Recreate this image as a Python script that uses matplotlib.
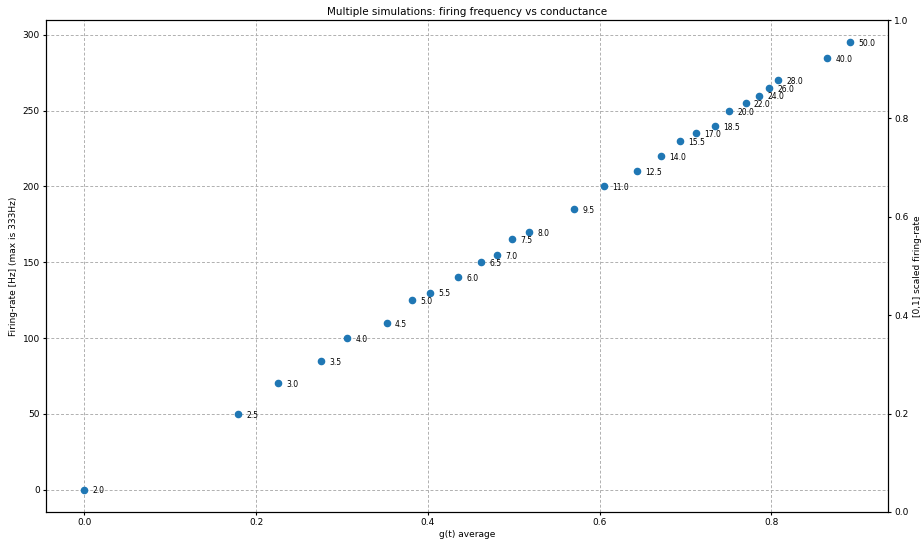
import matplotlib.pyplot as plt

# g(t) average per simulation
g_avg = [0.0, 0.179, 0.226, 0.276, 0.306, 0.352, 0.381, 0.4025, 0.4355, 0.4615,
         0.481, 0.498, 0.518, 0.570, 0.605, 0.643, 0.671, 0.693, 0.712, 0.734,
         0.751, 0.770, 0.786, 0.797, 0.808, 0.865, 0.891]
# firing rate [Hz]
rates = [0, 50, 70, 85, 100, 110, 125, 130, 140, 150,
         155, 165, 170, 185, 200, 210, 220, 230, 235, 240,
         250, 255, 260, 265, 270, 285, 295]
# input value used in each simulation
inputs = [2.0, 2.5, 3.0, 3.5, 4.0, 4.5, 5.0, 5.5, 6.0, 6.5,
          7.0, 7.5, 8.0, 9.5, 11.0, 12.5, 14.0, 15.5, 17.0, 18.5,
          20.0, 22.0, 24.0, 26.0, 28.0, 40.0, 50.0]

fig, ax = plt.subplots(figsize=(9.21, 5.44), dpi=100)
fig.subplots_adjust(left=0.05, right=0.964, top=0.963, bottom=0.059)

ax.scatter(g_avg, rates, s=20, color="#1f77b4", zorder=3)
for g, r, i in zip(g_avg, rates, inputs):
    ax.annotate(f"{i:.1f}", (g, r), xytext=(6, -1), textcoords="offset points",
                fontsize=5.5, va="center", ha="left")

ax.set_title("Multiple simulations: firing frequency vs conductance", fontsize=7.5, pad=4)
ax.set_xlabel("g(t) average", fontsize=6.5, labelpad=2)
ax.set_ylabel("Firing-rate [Hz] (max is 333Hz)", fontsize=6.5, labelpad=3)
ax.tick_params(labelsize=6.5, length=2.5, pad=2)
ax.grid(True, linestyle=(0, (3, 2)), color="#b0b0b0", linewidth=0.7)

ax2 = ax.twinx()
ax2.set_ylim(0, 1)
ax2.set_ylabel("[0,1] scaled firing-rate", fontsize=6.5, labelpad=3)
ax2.tick_params(labelsize=6.5, length=2.5, pad=2)

plt.savefig("out.png", dpi=100)
